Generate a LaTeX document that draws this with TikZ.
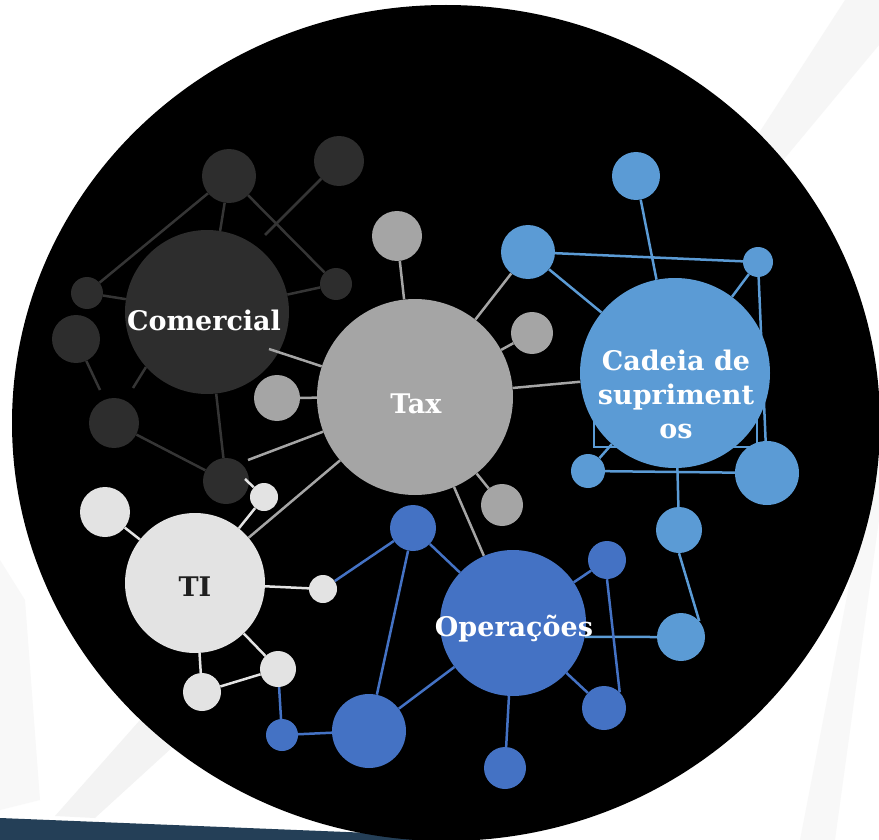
\documentclass[tikz,border=0pt]{standalone}
\usepackage{fontspec}
\newfontfamily\labfont{DejaVu Serif}
\definecolor{cdark}{HTML}{2D2D2D}
\definecolor{cdarkln}{HTML}{353535}
\definecolor{tgray}{HTML}{A5A5A5}
\definecolor{lblue}{HTML}{5B9BD5}
\definecolor{dblue}{HTML}{4472C4}
\definecolor{lgray}{HTML}{E3E3E3}
\definecolor{navy}{HTML}{243F57}
\definecolor{streak}{HTML}{E6E6E6}
\pgfdeclarelayer{bgl}
\pgfdeclarelayer{edges}
\pgfsetlayers{bgl,edges,main}
\begin{document}
\begin{tikzpicture}[x=1pt,y=-1pt,
  dotc/.style={circle,inner sep=0pt,draw=none,fill=cdark,minimum size=#1},
  dott/.style={circle,inner sep=0pt,draw=none,fill=tgray,minimum size=#1},
  dotl/.style={circle,inner sep=0pt,draw=none,fill=lblue,minimum size=#1},
  dotd/.style={circle,inner sep=0pt,draw=none,fill=dblue,minimum size=#1},
  doti/.style={circle,inner sep=0pt,draw=none,fill=lgray,minimum size=#1},
  lnc/.style={draw=cdarkln,line width=2.5pt},
  lnt/.style={draw=tgray,line width=2.5pt},
  lnl/.style={draw=lblue,line width=2.5pt},
  lnd/.style={draw=dblue,line width=2.5pt},
  lni/.style={draw=lgray,line width=2.5pt},
  txt/.style={font=\labfont\bfseries\fontsize{27}{34}\selectfont,text=white,inner sep=0pt}]
\useasboundingbox (0,0) rectangle (879,840);
\begin{pgfonlayer}{bgl}
  \fill[white] (0,0) rectangle (879,840);
  \fill[streak,opacity=0.35] (845,0) -- (879,0) -- (879,45) -- (775,170) -- (748,150) -- cycle;
  \fill[streak,opacity=0.25] (879,430) -- (879,520) -- (835,840) -- (800,840) -- cycle;
  \fill[streak,opacity=0.45] (140,720) -- (175,745) -- (95,818) -- (55,816) -- cycle;
  \fill[streak,opacity=0.25] (0,560) -- (25,600) -- (40,800) -- (0,810) -- cycle;
  \fill[navy] (0,818) -- (470,837) -- (470,840) -- (0,840) -- cycle;
  \fill[black] (446,423) ellipse [x radius=434pt, y radius=418pt];
\end{pgfonlayer}

% Comercial group
\node[dotc=164] (com) at (207,312) {};
\node[dotc=54] (c1) at (229,176) {};
\node[dotc=50] (c2) at (339,161) {};
\node[dotc=32] (c3) at (336,284) {};
\node[dotc=32] (c4) at (87,293) {};
\node[dotc=48] (c5) at (76,339) {};
\node[dotc=50] (c6) at (114,423) {};
\node[dotc=46] (c7) at (226,481) {};
\coordinate (f1) at (265,235);
\coordinate (f2) at (100,390);
\coordinate (f3) at (133,388);
\coordinate (f4) at (146,367);

% Tax group
\node[dott=196] (tax) at (415,397) {};
\node[dott=50] (t1) at (397,236) {};
\node[dott=42] (t2) at (532,333) {};
\node[dott=46] (t3) at (277,398) {};
\node[dott=42] (t4) at (502,505) {};
\coordinate (f5) at (269,349);
\coordinate (f6) at (248,460);

% Cadeia group
\node[dotl=190] (cad) at (675,373) {};
\node[dotl=54] (s1) at (528,252) {};
\node[dotl=48] (s2) at (636,176) {};
\node[dotl=30] (s3) at (758,262) {};
\node[dotl=34] (s4) at (588,471) {};
\node[dotl=64] (s5) at (767,473) {};
\node[dotl=46] (s6) at (679,530) {};
\node[dotl=48] (s7) at (681,637) {};
\coordinate (r1) at (594,405);
\coordinate (r2) at (757,447);

% Operacoes group
\node[dotd=146] (ops) at (513,623) {};
\node[dotd=46] (o1) at (413,528) {};
\node[dotd=38] (o2) at (607,560) {};
\node[dotd=44] (o3) at (604,708) {};
\node[dotd=42] (o4) at (505,768) {};
\node[dotd=74] (o5) at (369,731) {};
\node[dotd=32] (o6) at (282,735) {};

% TI group
\node[doti=140] (ti) at (195,583) {};
\node[doti=50] (i1) at (105,512) {};
\node[doti=28] (i2) at (264,497) {};
\node[doti=28] (i3) at (323,589) {};
\node[doti=36] (i4) at (278,669) {};
\node[doti=38] (i5) at (202,692) {};
\coordinate (f7) at (245,479);

\begin{pgfonlayer}{edges}
  % Comercial
  \draw[lnc] (c4) -- (c1);
  \draw[lnc] (c1) -- (com);
  \draw[lnc] (c1) -- (c3);
  \draw[lnc] (c2) -- (f1);
  \draw[lnc] (c3) -- (com);
  \draw[lnc] (c4) -- (com);
  \draw[lnc] (c5) -- (f2);
  \draw[lnc] (f3) -- (f4);
  \draw[lnc] (c6) -- (c7);
  \draw[lnc] (com) -- (c7);
  % Tax
  \draw[lnt] (tax) -- (t1);
  \draw[lnt] (tax) -- (t2);
  \draw[lnt] (tax) -- (t3);
  \draw[lnt] (tax) -- (t4);
  \draw[lnt] (tax) -- (f6);
  \draw[lnt] (tax) -- (ti);
  \draw[lnt] (tax) -- (cad);
  \draw[lnt] (tax) -- (ops);
  \draw[lnt] (tax) -- (s1);
  % Cadeia
  \draw[lnl] (s1) -- (s3);
  \draw[lnl] (s1) -- (cad);
  \draw[lnl] (s2) -- (cad);
  \draw[lnl] (s3) -- (cad);
  \draw[lnl] (s3) -- (s5);
  \draw[lnl] (r1) rectangle (r2);
  \draw[lnl] (s4) -- (cad);
  \draw[lnl] (s4) -- (s5);
  \draw[lnl] (cad) -- (s6);
  \draw[lnl] (s6.south) -- (s7.41);
  \draw[lnl] (ops.-11) -- (s7.west);
  % Operacoes
  \draw[lnd] (o1) -- (ops);
  \draw[lnd] (o1) -- (o5);
  \draw[lnd] (o1) -- (i3);
  \draw[lnd] (ops) -- (o2);
  \draw[lnd] (o2.south) -- (o3.45);
  \draw[lnd] (ops) -- (o3);
  \draw[lnd] (ops) -- (o4);
  \draw[lnd] (ops) -- (o5);
  \draw[lnd] (o5) -- (o6);
  \draw[lnd] (o6) -- (i4);
  % TI
  \draw[lni] (ti) -- (i1);
  \draw[lni] (ti) -- (i2);
  \draw[lni] (ti) -- (i3);
  \draw[lni] (ti) -- (i4);
  \draw[lni] (ti) -- (i5);
  \draw[lni] (i5) -- (i4);
\end{pgfonlayer}
% lines lying over a circle
\draw[lnt] (f5) -- (tax);
\draw[lni] (i2) -- (f7);

% labels
\node[txt,anchor=base] (comt) at (204,330) {Comercial};
\node[txt,anchor=base] (taxt) at (416,413) {Tax};
\node[txt,anchor=base,text=black!88] (tit) at (195,596) {TI};
\node[txt,anchor=base] (opst) at (514,636) {Operações};
\node[txt,align=center,anchor=center] (cadt) at (676,394) {Cadeia de\\supriment\\os};
\end{tikzpicture}
\end{document}
